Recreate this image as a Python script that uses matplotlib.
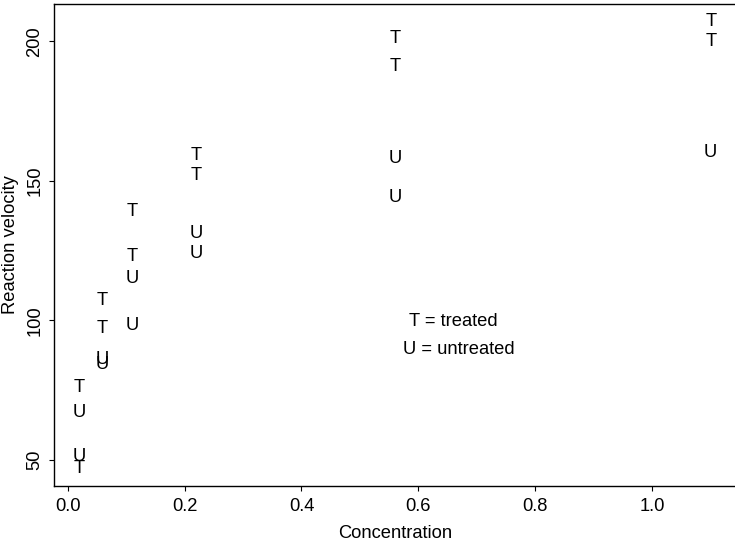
import numpy as np
import matplotlib.pyplot as plt

plt.rcParams['font.family'] = ['Liberation Sans', 'DejaVu Sans']

# Puromycin data
conc_t = [0.02, 0.02, 0.06, 0.06, 0.11, 0.11, 0.22, 0.22, 0.56, 0.56, 1.10, 1.10]
rate_t = [76, 47, 97, 107, 123, 139, 159, 152, 191, 201, 207, 200]
conc_u = [0.02, 0.02, 0.06, 0.06, 0.11, 0.11, 0.22, 0.22, 0.56, 0.56, 1.10]
rate_u = [67, 51, 84, 86, 98, 115, 131, 124, 144, 158, 160]

fs = 13.2
fig = plt.figure(figsize=(7.35, 5.44), dpi=100)
ax = fig.add_axes([54/735, 58/544, 682/735, 482/544])

for x, y in zip(conc_t, rate_t):
    ax.text(x, y, 'T', ha='center', va='center', fontsize=fs)
for x, y in zip(conc_u, rate_u):
    ax.text(x, y, 'U', ha='center', va='center', fontsize=fs)

# R style axis ranges (4% extension)
allx = np.array(conc_t + conc_u)
ally = np.array(rate_t + rate_u)
dx = (allx.max() - allx.min()) * 0.04
dy = (ally.max() - ally.min()) * 0.04
ax.set_xlim(allx.min() - dx, allx.max() + dx)
ax.set_ylim(ally.min() - dy, ally.max() + dy)

ax.set_xticks([0.0, 0.2, 0.4, 0.6, 0.8, 1.0])
ax.set_xticklabels(['0.0', '0.2', '0.4', '0.6', '0.8', '1.0'])
ax.set_yticks([50, 100, 150, 200])
ax.set_yticklabels(['50', '100', '150', '200'], rotation=90, va='center')
ax.tick_params(length=3.8, width=0.8, labelsize=fs, colors='black')
ax.tick_params(axis='x', pad=5.0)
ax.tick_params(axis='y', pad=4.0)

fig.text(395/735, 1 - 533/544, 'Concentration', ha='center', va='center', fontsize=fs)
fig.text(11/735, 1 - 245/544, 'Reaction velocity', ha='center', va='center',
         rotation=90, fontsize=fs)

for s in ax.spines.values():
    s.set_linewidth(1.0)

ax.text(0.659, 99.5, 'T = treated', ha='center', va='center', fontsize=fs)
ax.text(0.6695, 89.5, 'U = untreated', ha='center', va='center', fontsize=fs)

fig.savefig('out.png', dpi=100)
